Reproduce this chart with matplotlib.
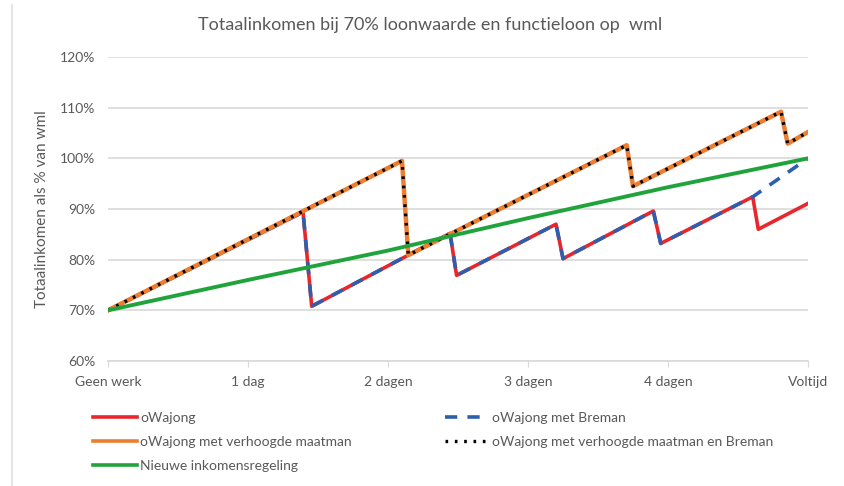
import matplotlib
matplotlib.use('Agg')
import matplotlib.pyplot as plt
from matplotlib.lines import Line2D

plt.rcParams['font.family'] = ['Lato', 'DejaVu Sans']

# categorie-as (dagen werk)
categorieen = ['Geen werk', '1 dag', '2 dagen', '3 dagen', '4 dagen', 'Voltijd']
y_ticks = [60, 70, 80, 90, 100, 110, 120]

# oWajong
x_owajong = [0, 1.393, 1.455, 2.145, 2.443, 2.49, 3.2, 3.25, 3.895, 3.948, 4.605, 4.645, 5.0]
y_owajong = [70, 89.4, 70.8, 80.9, 85.2, 76.9, 87.0, 80.2, 89.6, 83.2, 92.4, 86.0, 91.1]

# oWajong met Breman
x_breman = [0, 1.393, 1.455, 2.145, 2.443, 2.49, 3.2, 3.25, 3.895, 3.948, 4.605, 5.0]
y_breman = [70, 89.4, 70.8, 80.9, 85.2, 76.9, 87.0, 80.2, 89.6, 83.2, 92.4, 100.0]

# oWajong met verhoogde maatman (en Breman: zelfde lijn)
x_maatman = [0, 2.10, 2.145, 3.705, 3.75, 4.807, 4.855, 5.0]
y_maatman = [70, 99.5, 80.9, 102.6, 94.5, 109.2, 102.9, 105.2]

# Nieuwe inkomensregeling
x_nieuw = [0, 1, 2, 3, 4, 5]
y_nieuw = [70, 76, 81.8, 88.2, 94.3, 100]

labels = ['oWajong', 'oWajong met Breman', 'oWajong met verhoogde maatman',
          'oWajong met verhoogde maatman en Breman', 'Nieuwe inkomensregeling']

grijs = '#595959'
rood = '#e8262b'
blauw = '#2e5fae'
oranje = '#ed7d31'
groen = '#21a33c'

fig = plt.figure(figsize=(8.45, 4.86), dpi=100)
ax = fig.add_axes([108 / 845, 1 - 361 / 486, 700 / 845, 304 / 486])

stip = (0.8, 2.0)
l1, = ax.plot(x_owajong, y_owajong, color=rood, lw=2.6, label=labels[0])
l2, = ax.plot(x_breman, y_breman, color=blauw, lw=2.6, dashes=(3.4, 2.8), label=labels[1])
l3, = ax.plot(x_maatman, y_maatman, color=oranje, lw=3.2, label=labels[2])
l4, = ax.plot(x_maatman, y_maatman, color='black', lw=2.4, dashes=stip, label=labels[3])
l5, = ax.plot(x_nieuw, y_nieuw, color=groen, lw=2.8, label=labels[4])

ax.set_xlim(0, 5)
ax.set_ylim(60, 120)
ax.set_yticks(y_ticks)
ax.set_yticklabels([f'{v}%' for v in y_ticks])
ax.set_xticks(range(len(categorieen)))
ax.set_xticklabels(categorieen)
ax.grid(axis='y', color='#d9d9d9', lw=1.2)
ax.set_axisbelow(True)
for s in ['top', 'right', 'left']:
    ax.spines[s].set_visible(False)
ax.spines['bottom'].set_color('#d9d9d9')
ax.spines['bottom'].set_linewidth(1.2)
ax.tick_params(axis='y', length=0, pad=9, labelsize=10, labelcolor=grijs)
ax.tick_params(axis='x', length=4, color='#d9d9d9', pad=7, labelsize=10, labelcolor=grijs)
ax.set_ylabel('Totaalinkomen als % van wml', fontsize=11, color=grijs, labelpad=8)

fig.text(430 / 845, 1 - 25 / 486, 'Totaalinkomen bij 70% loonwaarde en functieloon op  wml',
         ha='center', va='center', fontsize=13, color=grijs)

# linker kaderlijn
fig.add_artist(Line2D([12 / 845, 12 / 845], [0, 1 - 5 / 486], color='#e6e6e6', lw=1.5,
                      transform=fig.transFigure))

leg_opts = dict(frameon=False, fontsize=10, handlelength=3.2, handletextpad=0.2,
                labelspacing=0.85, borderpad=0, labelcolor=grijs, loc='upper left')
h1 = Line2D([], [], color=rood, lw=2.6)
h3 = Line2D([], [], color=oranje, lw=2.6)
h5 = Line2D([], [], color=groen, lw=2.6)
leg1 = fig.legend([h1, h3, h5], [labels[0], labels[2], labels[4]],
                  bbox_to_anchor=(86 / 845, 1 - 405 / 486), **leg_opts)
h2 = Line2D([], [], color=blauw, lw=2.6, dashes=(3.4, 2.8))
h4 = Line2D([], [], color='black', lw=2.4, dashes=stip)
leg2 = fig.legend([h2, h4], [labels[1], labels[3]],
                  bbox_to_anchor=(438 / 845, 1 - 405 / 486), **leg_opts)

fig.savefig('out.png', dpi=100)
